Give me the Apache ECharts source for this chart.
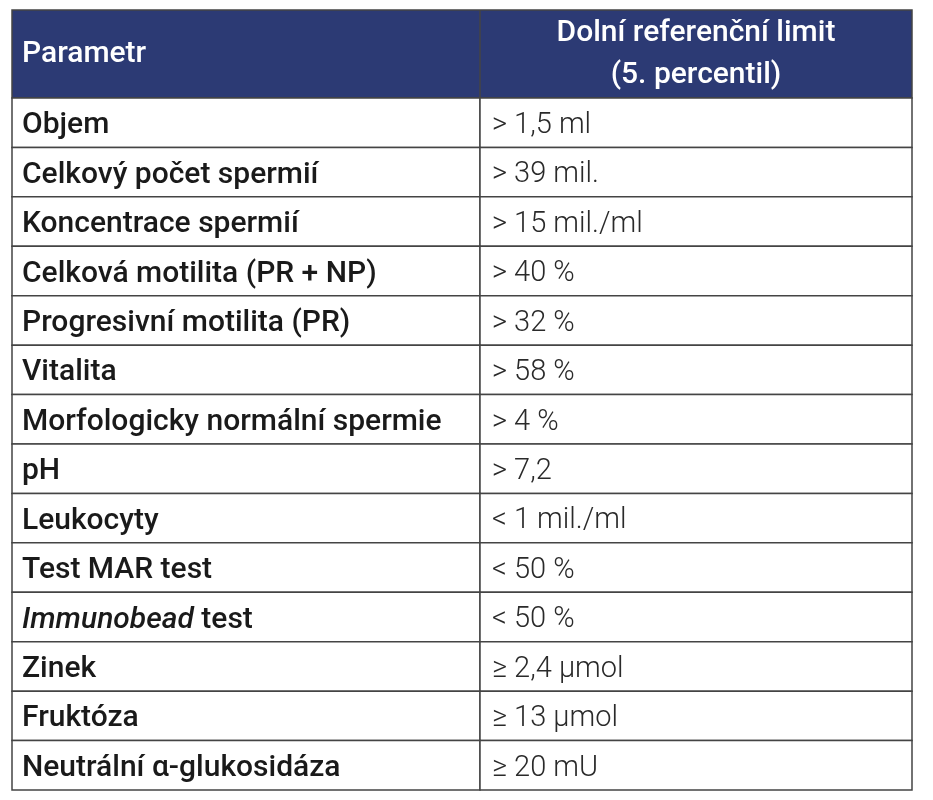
<!DOCTYPE html>
<html><head><meta charset="utf-8">
<script src="https://cdn.jsdelivr.net/npm/echarts@6/dist/echarts.min.js"></script>
<style>html,body{margin:0;background:#fff}#c{width:933px;height:800px}</style>
</head><body><div id="c"></div>
<script>
const headers = ['Parametr', 'Dolní referenční limit\n(5. percentil)'];
const parameters = ['Objem','Celkový počet spermií','Koncentrace spermií','Celková motilita (PR + NP)','Progresivní motilita (PR)','Vitalita','Morfologicky normální spermie','pH','Leukocyty','Test MAR test','{i|Immunobead} test','Zinek','Fruktóza','Neutrální α-glukosidáza'];
const limits = ['> 1,5 ml','> 39 mil.','> 15 mil./ml','> 40 %','> 32 %','> 58 %','> 4 %','> 7,2','< 1 mil./ml','< 50 %','< 50 %','≥ 2,4 μmol','≥ 13 μmol','≥ 20 mU'];
const FONT = 'Roboto, "Noto Sans", sans-serif';
const chart = echarts.init(document.getElementById('c'));
const split = 0.52;
chart.setOption({
  animation:false,
  grid:{left:12,right:21,top:98,bottom:10},
  xAxis:{type:'value',min:0,max:1,show:false},
  yAxis:{type:'category',data:parameters.map((p,i)=>String(i)),inverse:true,show:false},
  graphic:[
    {type:'rect',shape:{x:12,y:10,width:900,height:88},style:{fill:'#2c3a74',stroke:'#444',lineWidth:1.5}},
    {type:'line',shape:{x1:480,y1:10,x2:480,y2:98},style:{stroke:'#444',lineWidth:1.5}},
    {type:'text',x:22,y:54,style:{text:headers[0],fill:'#fff',font:'500 30px '+FONT,verticalAlign:'middle'}},
    {type:'text',x:696,y:54,style:{text:headers[1],fill:'#fff',font:'500 30px '+FONT,align:'center',verticalAlign:'middle',lineHeight:42}}
  ],
  series:[{
    type:'custom',
    data:parameters.map((p,i)=>[i,p,limits[i]]),
    renderItem:(params,api)=>{
      const i=api.value(0);
      const top=api.coord([0,i]); const size=api.size([1,1]);
      const x0=top[0], w=size[0], h=size[1], y=top[1]-h/2;
      const xs=x0+w*split;
      const d=params.dataIndex;
      return {type:'group',children:[
        {type:'rect',shape:{x:x0,y:y,width:w*split,height:h},style:{fill:'#fff',stroke:'#444',lineWidth:1.5}},
        {type:'rect',shape:{x:xs,y:y,width:w*(1-split),height:h},style:{fill:'#fff',stroke:'#444',lineWidth:1.5}},
        {type:'text',x:x0+10,y:y+h/2+3,style:{text:parameters[d],fill:'#1a1a1a',font:'500 30px '+FONT,verticalAlign:'middle',
          rich:{i:{fontStyle:'italic',fontWeight:500,fontSize:30,fontFamily:FONT,fill:'#1a1a1a'}}}},
        {type:'text',x:xs+12,y:y+h/2+3,style:{text:limits[d],fill:'#2a2a2a',font:'300 29px '+FONT,verticalAlign:'middle'}}
      ]};
    }
  }]
});
</script></body></html>
